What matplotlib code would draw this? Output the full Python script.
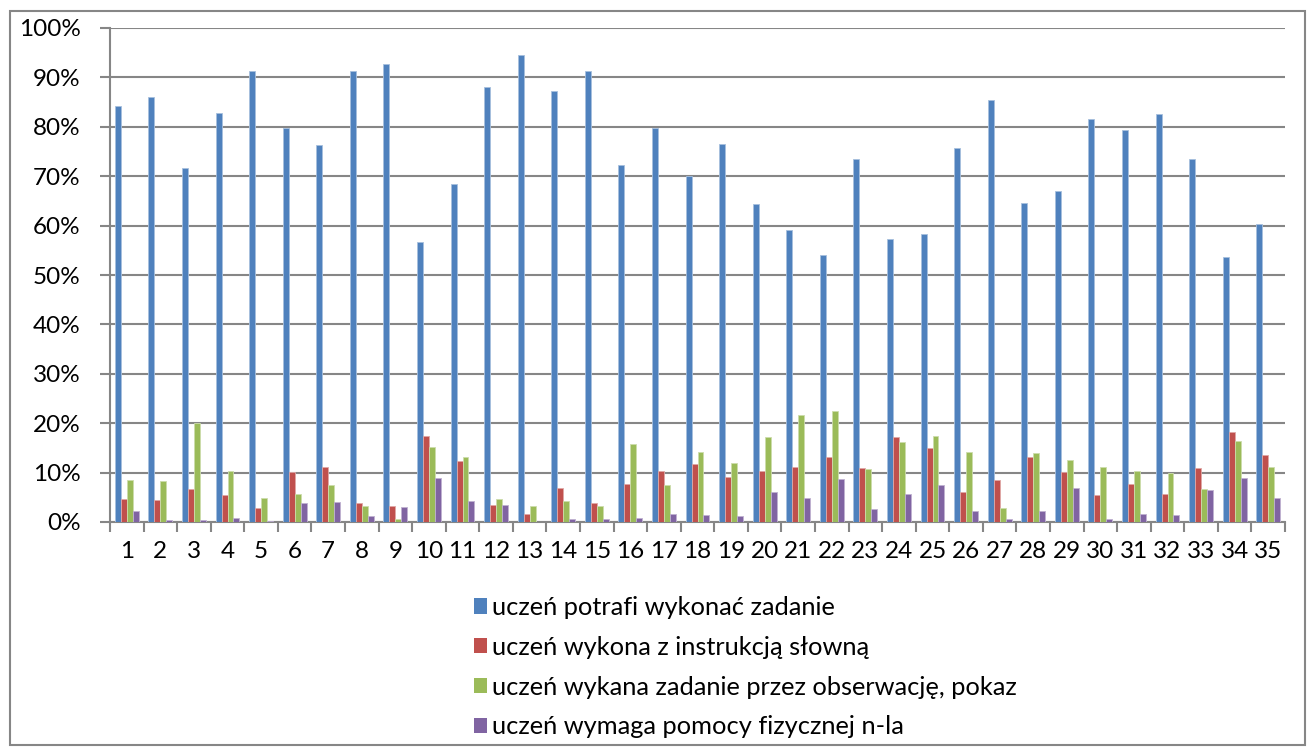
import matplotlib
matplotlib.use("Agg")
import matplotlib.pyplot as plt
import numpy as np
from matplotlib.patches import Rectangle
from matplotlib.ticker import PercentFormatter

plt.rcParams['font.family'] = ['Lato', 'DejaVu Sans']

categories = [str(i) for i in range(1, 36)]

potrafi = [84.2, 86.0, 71.6, 82.8, 91.2, 79.8, 76.3, 91.2, 92.7, 56.7,
           68.5, 88.0, 94.6, 87.2, 91.2, 72.3, 79.8, 70.1, 76.5, 64.4,
           59.1, 54.0, 73.5, 57.2, 58.2, 75.8, 85.5, 64.6, 67.1, 81.5,
           79.3, 82.5, 73.5, 53.7, 60.3]
instrukcja = [4.7, 4.4, 6.7, 5.4, 2.9, 10.2, 11.1, 3.9, 3.2, 17.4,
              12.4, 3.4, 1.7, 6.9, 3.9, 7.7, 10.4, 11.7, 9.2, 10.4,
              11.1, 13.2, 10.9, 17.2, 14.9, 6.1, 8.6, 13.2, 10.2, 5.4,
              7.7, 5.7, 10.9, 18.2, 13.6]
obserwacja = [8.5, 8.2, 20.0, 10.4, 4.9, 5.7, 7.4, 3.2, 0.7, 15.1,
              13.2, 4.7, 3.2, 4.2, 3.2, 15.7, 7.4, 14.2, 11.9, 17.2,
              21.6, 22.4, 10.7, 16.2, 17.4, 14.2, 2.9, 13.9, 12.6, 11.1,
              10.4, 9.9, 6.7, 16.4, 11.1]
pomoc = [2.2, 0.4, 0.4, 0.9, 0.2, 3.9, 4.1, 1.2, 3.0, 8.9,
         4.2, 3.4, 0.0, 0.7, 0.7, 0.9, 1.7, 1.4, 1.2, 6.1,
         4.9, 8.7, 2.7, 5.7, 7.4, 2.2, 0.7, 2.2, 6.9, 0.7,
         1.7, 1.4, 6.4, 8.9, 4.9]

series_labels = ["uczeń potrafi wykonać zadanie",
                 "uczeń wykona z instrukcją słowną",
                 "uczeń wykana zadanie przez obserwację, pokaz",
                 "uczeń wymaga pomocy fizycznej n-la"]
colors = ["#4F81BD", "#C0504D", "#9BBB59", "#8064A2"]
edges = ["#A7C0DE", "#DFA8A6", "#CDDDAC", "#BFB1D0"]

W, H = 1312, 749
fig = plt.figure(figsize=(W / 100, H / 100), dpi=100)
ax = fig.add_axes([110 / W, 1 - 522 / H, (1285 - 110) / W, (522 - 28) / H])

x = np.arange(1, len(categories) + 1)
bw = 0.178
all_series = [potrafi, instrukcja, obserwacja, pomoc]
for i, (vals, c, ec, lab) in enumerate(zip(all_series, colors, edges, series_labels)):
    ax.bar(x + (i - 1.5) * bw, vals, width=bw, color=c, edgecolor=ec,
           linewidth=0.6, label=lab, zorder=3)

ax.set_xlim(0.5, len(categories) + 0.5)
ax.set_ylim(0, 100)
ax.set_yticks(np.arange(0, 101, 10))
ax.yaxis.set_major_formatter(PercentFormatter(decimals=0))
ax.grid(axis='y', color='#868686', linewidth=1.5, zorder=0)
ax.set_axisbelow(True)

ax.set_xticks(np.arange(0.5, len(categories) + 1, 1.0))
ax.set_xticklabels([])
ax.set_xticks(x, minor=True)
ax.set_xticklabels(categories, minor=True)
ax.tick_params(axis='x', which='major', length=7, width=1.5, color='#868686')
ax.tick_params(axis='x', which='minor', length=0, pad=14, labelsize=17.5)
ax.tick_params(axis='y', length=7, width=1.5, color='#868686', pad=14, labelsize=17.5)

for s in ['top', 'right']:
    ax.spines[s].set_visible(False)
for s in ['left', 'bottom']:
    ax.spines[s].set_color('#868686')
    ax.spines[s].set_linewidth(1.5)

leg = fig.legend(loc='upper left', bbox_to_anchor=(474 / W, 1 - 596 / H),
                 frameon=False, fontsize=18.3, handlelength=0.52, handleheight=0.55,
                 handletextpad=0.2, labelspacing=0.66, borderaxespad=0, borderpad=0)
for h in leg.legend_handles:
    h.set_edgecolor('none')

fig.patches.append(Rectangle((10 / W, 4 / H), (1305 - 10) / W, (738 - 4) / H,
                             transform=fig.transFigure, fill=False,
                             edgecolor='#868686', linewidth=1.5))

fig.savefig('out.png', dpi=100)
